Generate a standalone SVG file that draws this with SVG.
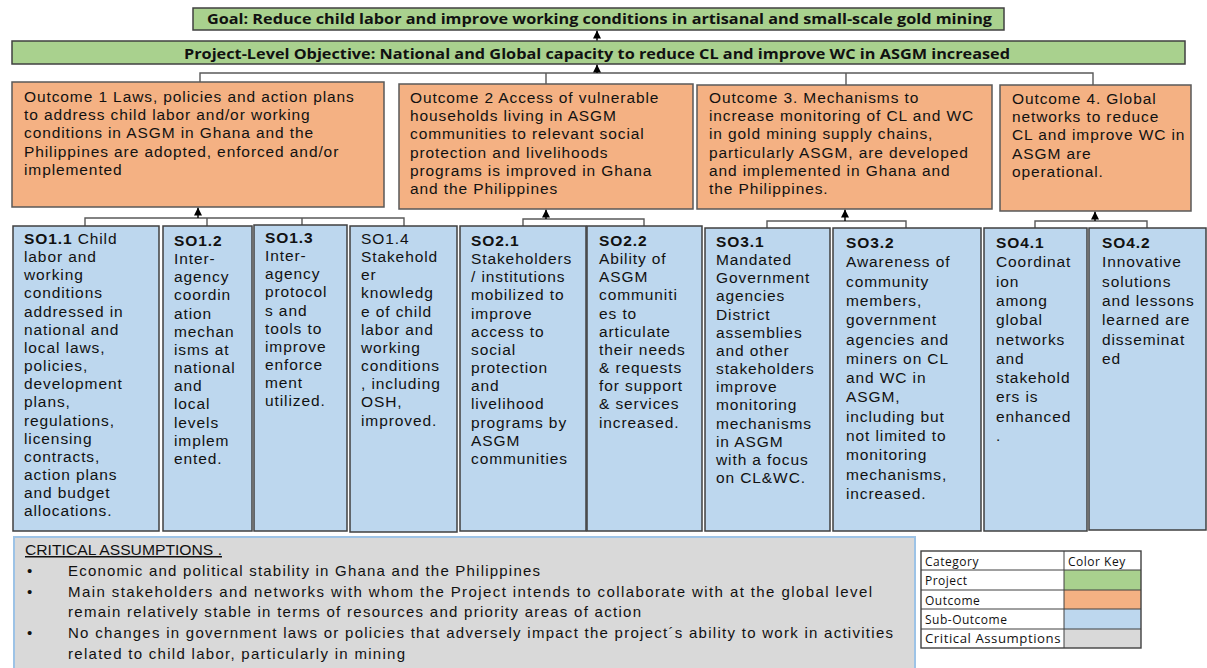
<svg xmlns="http://www.w3.org/2000/svg" width="1207" height="668" viewBox="0 0 1207 668">
<style>
.proj{fill:#a9d18e;stroke:#404040;stroke-width:1.5}
.out{fill:#f4b183;stroke:#595959;stroke-width:1.5}
.sub{fill:#bdd7ee;stroke:#404040;stroke-width:1.5}
.t{font-family:"Liberation Sans",Arial,sans-serif;font-size:15.5px;letter-spacing:0.9px;fill:#111}
.b{font-weight:bold}
.title{font-family:"Open Sans","Liberation Sans",sans-serif;font-size:14.5px;font-weight:bold;fill:#111}
.ca{font-family:"Liberation Sans",Arial,sans-serif;font-size:15px;fill:#111}
.lg{font-family:"Open Sans","Liberation Sans",sans-serif;font-size:12px;letter-spacing:0.5px;fill:#111}
.con{fill:none;stroke:#595959;stroke-width:1.4}
.arr{fill:none;stroke:#000;stroke-width:1.4;marker-end:url(#ah)}
</style>
<defs>
<marker id="ah" markerWidth="8" markerHeight="8" refX="8" refY="4" orient="auto" markerUnits="userSpaceOnUse" viewBox="0 0 8 8">
<path d="M0,0 L8,4 L0,8 Z" fill="#000"/>
</marker>
</defs>
<rect width="1207" height="668" fill="#fff"/>

<g id="connectors">
<path class="con" d="M200,82 V73 H1093 V85 M546,73 V84 M846,73 V85"/>
<line class="arr" x1="597" y1="73" x2="597" y2="64.5"/>
<line class="arr" x1="597" y1="41" x2="597" y2="30.5"/>
<path class="con" d="M85,226 V218 H404 V226 M207,218 V226 M302,218 V225"/>
<line class="arr" x1="198" y1="218" x2="198" y2="207.5"/>
<path class="con" d="M523,226 V219 H644 V226"/>
<line class="arr" x1="546" y1="219" x2="546" y2="209.5"/>
<path class="con" d="M767,228 V221 H906 V228"/>
<line class="arr" x1="845" y1="221" x2="845" y2="209.5"/>
<path class="con" d="M1035,228 V221 H1147 V228"/>
<line class="arr" x1="1095" y1="221" x2="1095" y2="211.5"/>
</g>

<g id="goal">
<rect class="proj" x="193" y="8" width="811" height="22"/>
<text class="title" x="207" y="24" textLength="785" lengthAdjust="spacingAndGlyphs">Goal: Reduce child labor and improve working conditions in artisanal and small-scale gold mining</text>
</g>
<g id="objective">
<rect class="proj" x="12" y="41" width="1173" height="23"/>
<text class="title" x="184" y="59" textLength="826" lengthAdjust="spacingAndGlyphs">Project-Level Objective: National and Global capacity to reduce CL and improve WC in ASGM increased</text>
</g>

<g id="outcome1">
<rect class="out" x="12" y="82" width="372" height="125"/>
<text class="t"><tspan x="24" y="102">Outcome 1 Laws, policies and action plans</tspan><tspan x="24" dy="18.2">to address child labor and/or working</tspan><tspan x="24" dy="18.2">conditions in ASGM in Ghana and the</tspan><tspan x="24" dy="18.2">Philippines are adopted, enforced and/or</tspan><tspan x="24" dy="18.2">implemented</tspan></text>
</g>
<g id="outcome2">
<rect class="out" x="399" y="84" width="294" height="125"/>
<text class="t"><tspan x="410" y="103">Outcome 2 Access of vulnerable</tspan><tspan x="410" dy="18.2">households living in ASGM</tspan><tspan x="410" dy="18.2">communities to relevant social</tspan><tspan x="410" dy="18.2">protection and livelihoods</tspan><tspan x="410" dy="18.2">programs is improved in Ghana</tspan><tspan x="410" dy="18.2">and the Philippines</tspan></text>
</g>
<g id="outcome3">
<rect class="out" x="697" y="85" width="295" height="124"/>
<text class="t"><tspan x="709" y="103">Outcome 3. Mechanisms to</tspan><tspan x="709" dy="18.2">increase monitoring  of CL and WC</tspan><tspan x="709" dy="18.2">in gold mining supply chains,</tspan><tspan x="709" dy="18.2">particularly ASGM, are developed</tspan><tspan x="709" dy="18.2">and implemented  in Ghana and</tspan><tspan x="709" dy="18.2">the Philippines.</tspan></text>
</g>
<g id="outcome4">
<rect class="out" x="1000" y="85" width="191" height="126"/>
<text class="t"><tspan x="1012" y="104">Outcome 4.  Global</tspan><tspan x="1012" dy="18.2">networks to reduce</tspan><tspan x="1012" dy="18.2">CL and improve  WC in</tspan><tspan x="1012" dy="18.2">ASGM are</tspan><tspan x="1012" dy="18.2">operational.</tspan></text>
</g>

<g id="so11">
<rect class="sub" x="13" y="226" width="146" height="305"/>
<text class="t"><tspan x="24" y="244" class="b">SO1.1</tspan><tspan> Child</tspan><tspan x="24" dy="18.15">labor and</tspan><tspan x="24" dy="18.15">working</tspan><tspan x="24" dy="18.15">conditions</tspan><tspan x="24" dy="18.15">addressed in</tspan><tspan x="24" dy="18.15">national and</tspan><tspan x="24" dy="18.15">local laws,</tspan><tspan x="24" dy="18.15">policies,</tspan><tspan x="24" dy="18.15">development</tspan><tspan x="24" dy="18.15">plans,</tspan><tspan x="24" dy="18.15">regulations,</tspan><tspan x="24" dy="18.15">licensing</tspan><tspan x="24" dy="18.15">contracts,</tspan><tspan x="24" dy="18.15">action plans</tspan><tspan x="24" dy="18.15">and budget</tspan><tspan x="24" dy="18.15">allocations.</tspan></text>
</g>
<g id="so12">
<rect class="sub" x="163" y="226" width="89" height="305"/>
<text class="t"><tspan x="174" y="246" class="b">SO1.2</tspan><tspan x="174" dy="18.15">Inter-</tspan><tspan x="174" dy="18.15">agency</tspan><tspan x="174" dy="18.15">coordin</tspan><tspan x="174" dy="18.15">ation</tspan><tspan x="174" dy="18.15">mechan</tspan><tspan x="174" dy="18.15">isms at</tspan><tspan x="174" dy="18.15">national</tspan><tspan x="174" dy="18.15">and</tspan><tspan x="174" dy="18.15">local</tspan><tspan x="174" dy="18.15">levels</tspan><tspan x="174" dy="18.15">implem</tspan><tspan x="174" dy="18.15">ented.</tspan></text>
</g>
<g id="so13">
<rect class="sub" x="254" y="225" width="93" height="306"/>
<text class="t"><tspan x="265" y="243" class="b">SO1.3</tspan><tspan x="265" dy="18.15">Inter-</tspan><tspan x="265" dy="18.15">agency</tspan><tspan x="265" dy="18.15">protocol</tspan><tspan x="265" dy="18.15">s and</tspan><tspan x="265" dy="18.15">tools to</tspan><tspan x="265" dy="18.15">improve</tspan><tspan x="265" dy="18.15">enforce</tspan><tspan x="265" dy="18.15">ment</tspan><tspan x="265" dy="18.15">utilized.</tspan></text>
</g>
<g id="so14">
<rect class="sub" x="350" y="226" width="107" height="306"/>
<text class="t"><tspan x="361" y="244">SO1.4</tspan><tspan x="361" dy="18.15">Stakehold</tspan><tspan x="361" dy="18.15">er</tspan><tspan x="361" dy="18.15">knowledg</tspan><tspan x="361" dy="18.15">e of child</tspan><tspan x="361" dy="18.15">labor and</tspan><tspan x="361" dy="18.15">working</tspan><tspan x="361" dy="18.15">conditions</tspan><tspan x="361" dy="18.15">, including</tspan><tspan x="361" dy="18.15">OSH,</tspan><tspan x="361" dy="18.15">improved.</tspan></text>
</g>
<g id="so21">
<rect class="sub" x="460" y="226" width="126" height="305"/>
<text class="t"><tspan x="471" y="246" class="b">SO2.1</tspan><tspan x="471" dy="18.15">Stakeholders</tspan><tspan x="471" dy="18.15">/ institutions</tspan><tspan x="471" dy="18.15">mobilized to</tspan><tspan x="471" dy="18.15">improve</tspan><tspan x="471" dy="18.15">access to</tspan><tspan x="471" dy="18.15">social</tspan><tspan x="471" dy="18.15">protection</tspan><tspan x="471" dy="18.15">and</tspan><tspan x="471" dy="18.15">livelihood</tspan><tspan x="471" dy="18.15">programs  by</tspan><tspan x="471" dy="18.15">ASGM</tspan><tspan x="471" dy="18.15">communities</tspan></text>
</g>
<g id="so22">
<rect class="sub" x="587" y="226" width="115" height="305"/>
<text class="t"><tspan x="599" y="246" class="b">SO2.2</tspan><tspan x="599" dy="18.15">Ability of</tspan><tspan x="599" dy="18.15">ASGM</tspan><tspan x="599" dy="18.15">communiti</tspan><tspan x="599" dy="18.15">es to</tspan><tspan x="599" dy="18.15">articulate</tspan><tspan x="599" dy="18.15">their needs</tspan><tspan x="599" dy="18.15">&amp; requests</tspan><tspan x="599" dy="18.15">for support</tspan><tspan x="599" dy="18.15">&amp; services</tspan><tspan x="599" dy="18.15">increased.</tspan></text>
</g>
<g id="so31">
<rect class="sub" x="705" y="228" width="125" height="303"/>
<text class="t"><tspan x="716" y="247" class="b">SO3.1</tspan><tspan x="716" dy="18.15">Mandated</tspan><tspan x="716" dy="18.15">Government</tspan><tspan x="716" dy="18.15">agencies</tspan><tspan x="716" dy="18.15">District</tspan><tspan x="716" dy="18.15">assemblies</tspan><tspan x="716" dy="18.15">and other</tspan><tspan x="716" dy="18.15">stakeholders</tspan><tspan x="716" dy="18.15">improve</tspan><tspan x="716" dy="18.15">monitoring</tspan><tspan x="716" dy="18.15">mechanisms</tspan><tspan x="716" dy="18.15">in ASGM</tspan><tspan x="716" dy="18.15">with a focus</tspan><tspan x="716" dy="18.15">on CL&amp;WC.</tspan></text>
</g>
<g id="so32">
<rect class="sub" x="833" y="228" width="148" height="303"/>
<text class="t"><tspan x="846" y="248" class="b">SO3.2</tspan><tspan x="846" dy="19.3">Awareness  of</tspan><tspan x="846" dy="19.3">community</tspan><tspan x="846" dy="19.3">members,</tspan><tspan x="846" dy="19.3">government</tspan><tspan x="846" dy="19.3">agencies and</tspan><tspan x="846" dy="19.3">miners on CL</tspan><tspan x="846" dy="19.3">and WC in</tspan><tspan x="846" dy="19.3">ASGM,</tspan><tspan x="846" dy="19.3">including but</tspan><tspan x="846" dy="19.3">not limited to</tspan><tspan x="846" dy="19.3">monitoring</tspan><tspan x="846" dy="19.3">mechanisms,</tspan><tspan x="846" dy="19.3">increased.</tspan></text>
</g>
<g id="so41">
<rect class="sub" x="984" y="228" width="103" height="303"/>
<text class="t"><tspan x="996" y="248" class="b">SO4.1</tspan><tspan x="996" dy="19.3">Coordinat</tspan><tspan x="996" dy="19.3">ion</tspan><tspan x="996" dy="19.3">among</tspan><tspan x="996" dy="19.3">global</tspan><tspan x="996" dy="19.3">networks</tspan><tspan x="996" dy="19.3">and</tspan><tspan x="996" dy="19.3">stakehold</tspan><tspan x="996" dy="19.3">ers is</tspan><tspan x="996" dy="19.3">enhanced</tspan><tspan x="996" dy="19.3">.</tspan></text>
</g>
<g id="so42">
<rect class="sub" x="1089" y="228" width="117" height="302"/>
<text class="t"><tspan x="1102" y="248" class="b">SO4.2</tspan><tspan x="1102" dy="19.3">Innovative</tspan><tspan x="1102" dy="19.3">solutions</tspan><tspan x="1102" dy="19.3">and lessons</tspan><tspan x="1102" dy="19.3">learned are</tspan><tspan x="1102" dy="19.3">disseminat</tspan><tspan x="1102" dy="19.3">ed</tspan></text>
</g>

<g id="critical-assumptions">
<rect x="14" y="537" width="901" height="140" fill="#d9d9d9" stroke="#9dc3e6" stroke-width="2"/>
<text class="ca" x="25" y="555" textLength="197" lengthAdjust="spacingAndGlyphs" text-decoration="underline">CRITICAL ASSUMPTIONS .</text>
<text class="ca" x="27" y="576">•</text>
<text class="ca" x="68" y="576" textLength="472" lengthAdjust="spacing">Economic and political stability in Ghana and the Philippines</text>
<text class="ca" x="27" y="597">•</text>
<text class="ca" x="68" y="597" textLength="804" lengthAdjust="spacing">Main stakeholders and networks with whom the Project intends to collaborate with at the global level</text>
<text class="ca" x="68" y="617" textLength="573" lengthAdjust="spacing">remain relatively stable in terms of resources and priority areas of action</text>
<text class="ca" x="27" y="638">•</text>
<text class="ca" x="68" y="638" textLength="825" lengthAdjust="spacing">No changes in government laws or policies that adversely impact the project´s ability to work in activities</text>
<text class="ca" x="68" y="659" textLength="337" lengthAdjust="spacing">related to child labor, particularly in mining</text>
</g>

<g id="legend">
<rect x="921" y="551" width="220" height="97" fill="#fff"/>
<rect x="1064" y="570" width="77" height="20" fill="#a9d18e"/>
<rect x="1064" y="590" width="77" height="19" fill="#f4b183"/>
<rect x="1064" y="609" width="77" height="20" fill="#bdd7ee"/>
<rect x="1064" y="629" width="77" height="19" fill="#d9d9d9"/>
<path d="M921,570 H1141 M921,590 H1141 M921,609 H1141 M921,629 H1141 M1064,551 V648" stroke="#404040" stroke-width="1" fill="none"/>
<rect x="921" y="551" width="220" height="97" fill="none" stroke="#404040" stroke-width="1.4"/>
<text class="lg" x="925" y="566">Category</text>
<text class="lg" x="1068" y="566">Color Key</text>
<text class="lg" x="925" y="585">Project</text>
<text class="lg" x="925" y="605">Outcome</text>
<text class="lg" x="925" y="624">Sub-Outcome</text>
<text class="lg" x="925" y="643" textLength="136" lengthAdjust="spacingAndGlyphs">Critical Assumptions</text>
</g>
</svg>
